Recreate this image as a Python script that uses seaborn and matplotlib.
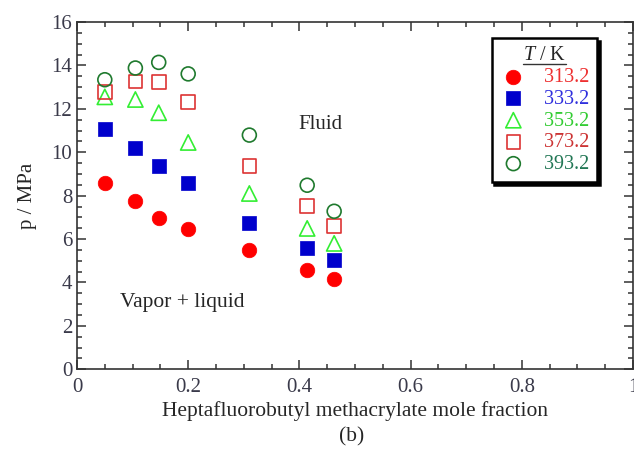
import numpy as np
import pandas as pd
import seaborn as sns
import matplotlib
matplotlib.use("Agg")
import matplotlib.pyplot as plt
from matplotlib.ticker import MultipleLocator
from matplotlib.lines import Line2D

# ---- data ----
x_frac = [0.05, 0.105, 0.147, 0.20, 0.31, 0.414, 0.4625]
p_313 = [8.58, 7.75, 6.99, 6.45, 5.49, 4.56, 4.14]
p_333 = [11.05, 10.20, 9.37, 8.59, 6.72, 5.59, 5.03]
p_353 = [12.55, 12.43, 11.82, 10.45, 8.10, 6.49, 5.80]
p_373 = [12.77, 13.25, 13.23, 12.32, 9.37, 7.53, 6.59]
p_393 = [13.34, 13.88, 14.14, 13.61, 10.79, 8.48, 7.28]
temps = ["313.2", "333.2", "353.2", "373.2", "393.2"]

series = [p_313, p_333, p_353, p_373, p_393]
markers = ["o", "s", "^", "s", "o"]
filled = [True, True, False, False, False]
colors = ["#ff0000", "#0000cc", "#33ee33", "#dd3333", "#1f7a2e"]
text_colors = ["#ee3030", "#3030dd", "#33cc33", "#cc3333", "#227755"]
sizes = [110, 90, 120, 95, 100]

sns.set_style("ticks")
plt.rcParams["font.family"] = ["Liberation Serif", "DejaVu Serif"]
plt.rcParams["mathtext.fontset"] = "custom"
plt.rcParams["mathtext.it"] = "Liberation Serif:italic"
plt.rcParams["mathtext.rm"] = "Liberation Serif"

fig = plt.figure(figsize=(6.34, 4.58), dpi=100)
ax = fig.add_axes([77 / 634, (458 - 369.3) / 458, 556 / 634, 347.3 / 458])

for vals, m, f, c, t, s in zip(series, markers, filled, colors, temps, sizes):
    df = pd.DataFrame({"x": x_frac, "p": vals})
    if f:
        sns.scatterplot(data=df, x="x", y="p", marker=m, s=s, color=c,
                        edgecolor=c, linewidth=0.5, ax=ax, label=t, zorder=3)
    else:
        sns.scatterplot(data=df, x="x", y="p", marker=m, s=s, color=c,
                        facecolor="none", edgecolor=c, linewidth=1.2,
                        ax=ax, label=t, zorder=3)

ax.set_xlim(0, 1)
ax.set_ylim(0, 16)
ax.xaxis.set_major_locator(MultipleLocator(0.2))
ax.xaxis.set_minor_locator(MultipleLocator(0.05))
ax.yaxis.set_major_locator(MultipleLocator(2))
ax.yaxis.set_minor_locator(MultipleLocator(0.5))
ax.set_xticks([0, 0.2, 0.4, 0.6, 0.8, 1.0])
ax.set_xticklabels(["0", "0.2", "0.4", "0.6", "0.8", "1"])
ax.tick_params(which="both", direction="in", top=True, right=True,
               labelsize=15, labelcolor="#3a3a4a", width=1.1, color="#333333")
ax.tick_params(which="major", length=6.5)
ax.tick_params(which="minor", length=3.5)
ax.tick_params(axis="x", pad=6)
for sp in ax.spines.values():
    sp.set_linewidth(1.2)
    sp.set_color("#333333")

ax.set_xlabel("Heptafluorobutyl methacrylate mole fraction", fontsize=15.5, labelpad=3)
ax.set_ylabel("p / MPa", fontsize=15, labelpad=10)

ax.text(0.437, 11.3, "Fluid", fontsize=15, ha="center", va="center")
ax.text(0.19, 3.1, "Vapor + liquid", fontsize=15.5, ha="center", va="center")
fig.text(352 / 634, 1 - 437 / 458, "(b)", fontsize=15.5, ha="center", va="center")

leg = ax.legend(title="$T$ / K", loc="upper left",
                bbox_to_anchor=((491.7 - 77) / 556, (369.3 - 38.3) / 347.3),
                frameon=True, fancybox=False, fontsize=14.5, title_fontsize=14.5,
                handletextpad=0.85, labelspacing=0.13, borderpad=0.4,
                handlelength=1.35, borderaxespad=0,
                shadow={"color": "black", "alpha": 1.0})
frame = leg.get_frame()
frame.set_edgecolor("black")
frame.set_linewidth(1.8)
frame.set_facecolor("white")
frame.set_alpha(1)
for txt, tc in zip(leg.get_texts(), text_colors):
    txt.set_color(tc)

fig.canvas.draw()
tb = leg.get_title().get_window_extent()
inv = fig.transFigure.inverted()
(x0, y0), (x1, y1) = inv.transform([[tb.x0, tb.y0], [tb.x1, tb.y0]])
fig.add_artist(Line2D([x0, x1], [y0 + 0.003, y0 + 0.003], color="#333333", lw=1.0))

fig.savefig("out.png", dpi=100)
